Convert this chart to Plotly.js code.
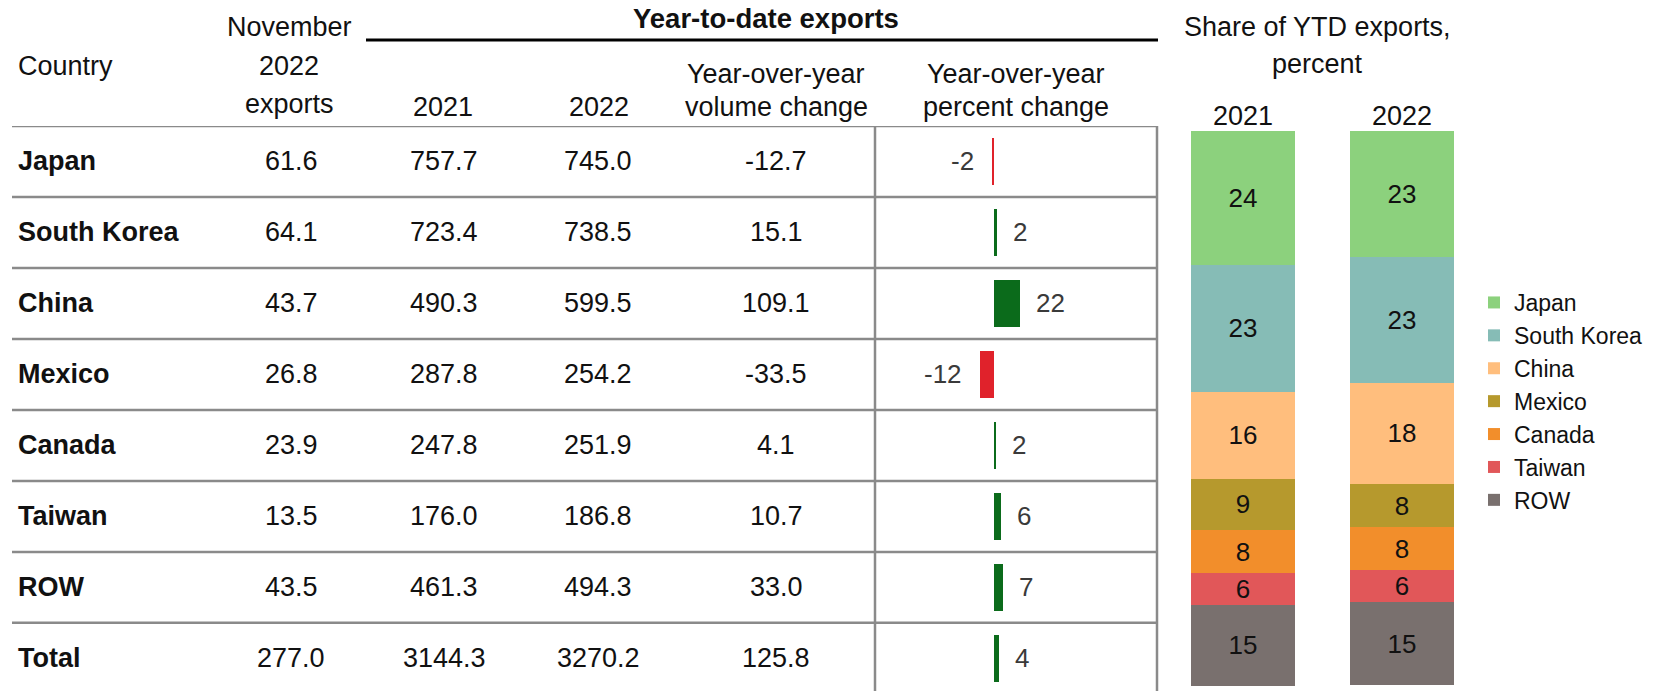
<!DOCTYPE html>
<html>
<head>
<meta charset="utf-8">
<script src="https://cdn.plot.ly/plotly-3.0.1.min.js"></script>
<style>html,body{margin:0;padding:0;background:#fff;}#chart{width:1664px;height:691px;}</style>
</head>
<body>
<div id="chart"></div>
<script>
// ---- data ----
const countries = ['Japan','South Korea','China','Mexico','Canada','Taiwan','ROW','Total'];
const nov2022 = [61.6, 64.1, 43.7, 26.8, 23.9, 13.5, 43.5, 277.0];
const ytd2021 = [757.7, 723.4, 490.3, 287.8, 247.8, 176.0, 461.3, 3144.3];
const ytd2022 = [745.0, 738.5, 599.5, 254.2, 251.9, 186.8, 494.3, 3270.2];
const volChange = [-12.7, 15.1, 109.1, -33.5, 4.1, 10.7, 33.0, 125.8];
const pctChange = [-1.7, 2.1, 22.3, -11.7, 1.7, 6.1, 7.2, 4.0];

const shareYears = ['2021', '2022'];
const shareCountries = ['Japan','South Korea','China','Mexico','Canada','Taiwan','ROW'];
const share2021 = [24.1, 23.0, 15.6, 9.2, 7.9, 5.6, 14.7];
const share2022 = [22.8, 22.6, 18.3, 7.8, 7.7, 5.7, 15.1];
const shareColors = ['#8CD17D','#86BCB6','#FFBE7D','#B6992D','#F28E2B','#E15759','#79706E'];

// ---- layout helpers ----
const W = 1664, H = 691;
const px = x => x / W;
const py = y => 1 - y / H;
const FONT = '"Liberation Sans", Arial, Helvetica, sans-serif';
const FS = 27;

const traces = [];

// percent change bars
traces.push({
  type: 'bar', orientation: 'h',
  x: pctChange, y: countries,
  xaxis: 'x', yaxis: 'y',
  width: 0.66,
  marker: {color: pctChange.map(v => v < 0 ? '#E0222B' : '#0B6B1B'), line: {width: 0}},
  hoverinfo: 'skip', showlegend: false
});

// stacked shares
shareCountries.forEach((c, i) => {
  traces.push({
    type: 'bar', name: c,
    x: shareYears, y: [share2021[i], share2022[i]],
    xaxis: 'x2', yaxis: 'y2',
    width: 0.66,
    marker: {color: shareColors[i], line: {width: 0}},
    texttemplate: '%{y:.0f}', textposition: 'inside', insidetextanchor: 'middle',
    textangle: 0, constraintext: 'none',
    textfont: {family: FONT, size: 26, color: '#111'},
    hoverinfo: 'skip'
  });
});

const annotations = [];
function ann(text, x, y, opts) {
  annotations.push(Object.assign({
    text: text, xref: 'paper', yref: 'paper', x: px(x), y: py(y),
    xanchor: 'center', yanchor: 'middle', showarrow: false,
    font: {family: FONT, size: FS, color: '#111'}
  }, opts || {}));
}

// headers
ann('Country', 16, 66, {xanchor: 'left'});
ann('November', 289, 27);
ann('2022', 289, 66);
ann('exports', 289, 104);
ann('<b>Year-to-date exports</b>', 766, 18, {font: {family: FONT, size: 27.5, color: '#111'}});
ann('2021', 443, 107);
ann('2022', 599, 107);
ann('Year-over-year', 776, 74);
ann('volume change', 776, 107);
ann('Year-over-year', 1016, 74);
ann('percent change', 1016, 107);
ann('Share of YTD exports,', 1317, 27);
ann('percent', 1317, 64);

// table body (rows positioned via the y axis)
const colX = [291, 444, 598, 776];
const cols = [nov2022, ytd2021, ytd2022, volChange];
countries.forEach((c, i) => {
  annotations.push({text: '<b>' + c + '</b>', xref: 'paper', yref: 'y', x: px(16), y: i,
    xanchor: 'left', yanchor: 'middle', showarrow: false,
    font: {family: FONT, size: FS, color: '#111'}});
  cols.forEach((arr, j) => {
    annotations.push({text: arr[i].toFixed(1), xref: 'paper', yref: 'y', x: px(colX[j]), y: i,
      xanchor: 'center', yanchor: 'middle', showarrow: false,
      font: {family: FONT, size: FS, color: '#111'}});
  });
  const v = pctChange[i];
  annotations.push({text: String(Math.round(v)), xref: 'x', yref: 'y', x: v, y: i,
    xanchor: v < 0 ? 'right' : 'left', xshift: v < 0 ? -16 : 14, yanchor: 'middle', showarrow: false,
    font: {family: FONT, size: 26, color: '#3a3a3a'}});
});

// table lines
const shapes = [];
for (let i = 0; i < countries.length; i++) {
  shapes.push({type: 'line', xref: 'paper', yref: 'y', x0: px(12), x1: px(1158), y0: i - 0.5, y1: i - 0.5,
    line: {color: '#8a8a8a', width: 2.5}});
}
[875, 1157].forEach(x => {
  shapes.push({type: 'line', xref: 'paper', yref: 'y', x0: px(x), x1: px(x), y0: -0.5, y1: 7.6,
    line: {color: '#8a8a8a', width: 2.5}});
});
shapes.push({type: 'line', xref: 'paper', yref: 'paper', x0: px(366), x1: px(1158), y0: py(40), y1: py(40),
  line: {color: '#000', width: 3}});

const hidden = {showgrid: false, zeroline: false, showticklabels: false, showline: false, ticks: '', fixedrange: true};

const layout = {
  width: W, height: H,
  margin: {l: 0, r: 0, t: 0, b: 0, pad: 0},
  paper_bgcolor: '#fff', plot_bgcolor: 'rgba(0,0,0,0)',
  font: {family: FONT, color: '#111'},
  barmode: 'stack',
  xaxis: Object.assign({}, hidden, {domain: [px(875), px(1157)], range: [-101, 138], anchor: 'y'}),
  yaxis: Object.assign({}, hidden, {domain: [0, py(126)], type: 'category', range: [7.46, -0.5], anchor: 'x'}),
  xaxis2: Object.assign({}, hidden, {domain: [px(1163.5), px(1481.5)], type: 'category', range: [-0.5, 1.5],
    anchor: 'y2', side: 'top', showticklabels: true, tickfont: {family: FONT, size: FS, color: '#111'}}),
  yaxis2: Object.assign({}, hidden, {domain: [py(686), py(131)], range: [100.1, 0], anchor: 'x2'}),
  showlegend: true,
  legend: {x: px(1474), y: py(281), xanchor: 'left', yanchor: 'top', traceorder: 'normal',
    font: {family: FONT, size: 23, color: '#111'}, bgcolor: 'rgba(0,0,0,0)', borderwidth: 0, tracegroupgap: 0},
  annotations: annotations,
  shapes: shapes
};

Plotly.newPlot('chart', traces, layout, {staticPlot: true, displayModeBar: false});
</script>
</body>
</html>
